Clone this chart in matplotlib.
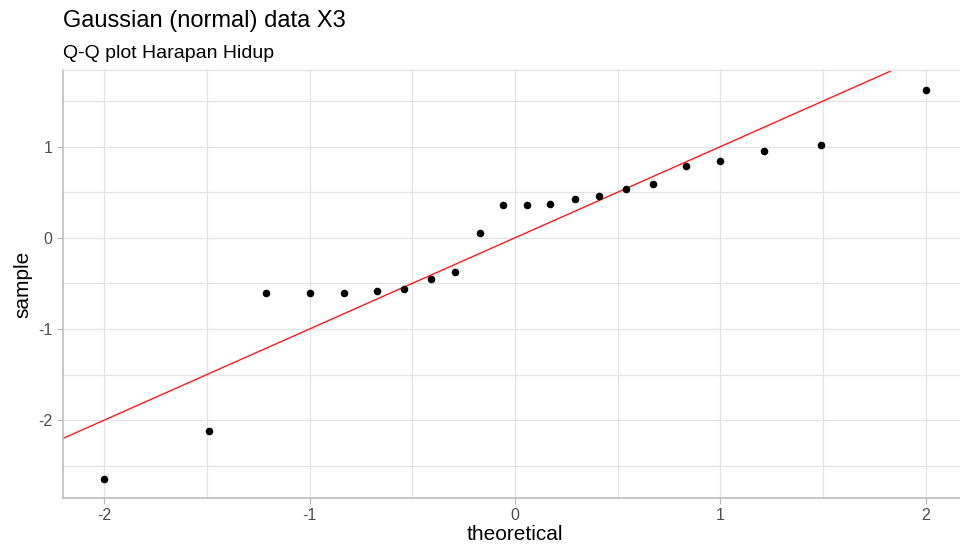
import numpy as np
import matplotlib.pyplot as plt

plt.rcParams['font.family'] = ['Liberation Sans', 'DejaVu Sans']

# ── data ──
theoretical = [-2.00, -1.49, -1.21, -1.00, -0.83, -0.67, -0.54, -0.41, -0.29, -0.17, -0.06,
               0.06, 0.17, 0.29, 0.41, 0.54, 0.67, 0.83, 1.00, 1.21, 1.49, 2.00]
sample = [-2.64, -2.12, -0.61, -0.60, -0.60, -0.58, -0.56, -0.45, -0.38, 0.05, 0.36,
          0.36, 0.37, 0.43, 0.455, 0.535, 0.59, 0.79, 0.84, 0.95, 1.02, 1.625]
line_slope, line_intercept = 1.0, 0.0

x_ticks = [-2, -1, 0, 1, 2]
y_ticks = [-2, -1, 0, 1]

fig = plt.figure(figsize=(9.6, 5.48), dpi=100)
ax = fig.add_axes([63 / 960, 50 / 548, (967 - 63) / 960, 428 / 548])

xlim = (-2.2, 2.2)
ylim = (-2.853, 1.84)

# grid every 0.5
grid_c = '#e3e3e3'
for gx in np.arange(-2.0, 2.01, 0.5):
    ax.axvline(gx, color=grid_c, lw=0.9, zorder=0)
for gy in np.arange(-2.5, 1.51, 0.5):
    ax.axhline(gy, color=grid_c, lw=0.9, zorder=0)

# reference line
xs = np.array(xlim)
ax.plot(xs, line_intercept + line_slope * xs, color='#ff1a1a', lw=1.0, zorder=2)

ax.scatter(theoretical, sample, s=30, color='black', zorder=3, linewidths=0)

ax.set_xlim(xlim)
ax.set_ylim(ylim)
ax.set_xticks(x_ticks)
ax.set_yticks(y_ticks)
ax.set_xticklabels([str(v) for v in x_ticks])
ax.set_yticklabels([str(v) for v in y_ticks])
ax.tick_params(colors='#bdbdbd', labelcolor='#4d4d4d', labelsize=11.5, length=4, width=0.9)

ax.spines['right'].set_visible(False)
ax.spines['top'].set_color('#e3e3e3')
ax.spines['top'].set_linewidth(0.9)
for side in ['left', 'bottom']:
    ax.spines[side].set_color('#bdbdbd')
    ax.spines[side].set_linewidth(1.2)

ax.set_xlabel('theoretical', fontsize=15, color='black', labelpad=1)
ax.set_ylabel('sample', fontsize=15, color='black', labelpad=4)

fig.text(63 / 960, 1 - 27 / 548, 'Gaussian (normal) data X3', fontsize=17, ha='left', va='baseline')
fig.text(63 / 960, 1 - 58 / 548, 'Q-Q plot Harapan Hidup', fontsize=14, ha='left', va='baseline')

fig.savefig('out.png', dpi=100)
